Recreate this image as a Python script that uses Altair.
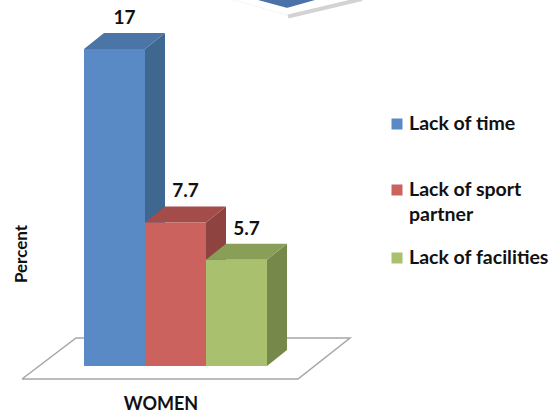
import altair as alt
import pandas as pd

# ---- data -------------------------------------------------------------
categories = ["Lack of time", "Lack of sport partner", "Lack of facilities"]
legend_labels = ["Lack of time", "Lack of sport\npartner", "Lack of facilities"]
values = [17, 7.7, 5.7]
group_label = "WOMEN"
y_title = "Percent"

front_colors = ["#5A8AC6", "#CB625E", "#A9C06E"]
top_colors = ["#4A75A6", "#A34C4A", "#899F57"]
side_colors = ["#3E6890", "#8E4341", "#76884A"]

# ---- layout (pixels) --------------------------------------------------
W, H = 553, 416
LEFT_PX = 84          # left edge of first bar
BAR_PX = 61           # bar width
BASE_PX = 366         # y pixel of value 0
PX_PER_PCT = 18.65    # pixels per percent
DEPTH_X_PX, DEPTH_Y_PX = 20, 16
FONT = "Lato"


def ux(px):
    """pixel column -> bar units"""
    return (px - LEFT_PX) / BAR_PX


def uy(py):
    """pixel row -> percent units"""
    return (BASE_PX - py) / PX_PER_PCT


x_dom = [ux(0), ux(W)]
y_dom = [uy(H), uy(0)]
ddx = DEPTH_X_PX / BAR_PX
ddy = DEPTH_Y_PX / PX_PER_PCT

xs = alt.Scale(domain=x_dom, nice=False, zero=False)
ys = alt.Scale(domain=y_dom, nice=False, zero=False)

front_rows, side_rows, top_rows, label_rows = [], [], [], []
for i, (c, v) in enumerate(zip(categories, values)):
    x0, x1 = float(i), float(i + 1)
    front_rows.append(dict(cat=c, x=x0, x2=x1, y=0.0, y2=v))
    side_rows += [dict(cat=c, x=x1, y=0.0, y2=v),
                  dict(cat=c, x=x1 + ddx, y=ddy, y2=v + ddy)]
    top_rows += [dict(cat=c, y=v, x=x0, x2=x1),
                 dict(cat=c, y=v + ddy, x=x0 + ddx, x2=x1 + ddx)]
    label_rows.append(dict(cat=c, x=x0 + 0.5 + ddx / 2, y=v + ddy, text=f"{v:g}"))

front_df = pd.DataFrame(front_rows)
side_df = pd.DataFrame(side_rows)
top_df = pd.DataFrame(top_rows)
label_df = pd.DataFrame(label_rows)

# floor parallelogram under the bars
floor_df = pd.DataFrame([
    dict(o=0, x=ux(22), y=uy(379)),
    dict(o=1, x=ux(298), y=uy(379)),
    dict(o=2, x=ux(350), y=uy(338)),
    dict(o=3, x=ux(76), y=uy(338)),
    dict(o=4, x=ux(22), y=uy(379)),
])

# edge of the neighbouring figure peeking in at the top
peek_fill_df = pd.DataFrame([
    dict(y=uy(0), x=ux(258), x2=ux(315)),
    dict(y=uy(7.7), x=ux(286.5), x2=ux(287.5)),
])
peek_band_df = pd.DataFrame([
    dict(o=0, x=ux(288), y=uy(16.5)),
    dict(o=1, x=ux(362), y=uy(-1)),
])
peek_dots_df = pd.DataFrame([
    dict(o=0, x=ux(234), y=uy(0)),
    dict(o=1, x=ux(287), y=uy(15)),
])

XQ = dict(scale=xs, axis=None)
YQ = dict(scale=ys, axis=None)

floor = alt.Chart(floor_df).mark_line(color="#A6A6A6", strokeWidth=1.5).encode(
    x=alt.X("x:Q", **XQ), y=alt.Y("y:Q", **YQ), order="o:Q",
)

peek_fill = alt.Chart(peek_fill_df).mark_area(
    orient="horizontal", color="#4A72A8", opacity=1
).encode(y=alt.Y("y:Q", **YQ), x=alt.X("x:Q", stack=None, **XQ), x2="x2:Q")

peek_band = alt.Chart(peek_band_df).mark_line(color="#D3D3D3", strokeWidth=4).encode(
    x=alt.X("x:Q", **XQ), y=alt.Y("y:Q", **YQ), order="o:Q",
)

peek_dots = alt.Chart(peek_dots_df).mark_line(
    color="#E4E4E4", strokeWidth=1, strokeDash=[1, 2]
).encode(x=alt.X("x:Q", **XQ), y=alt.Y("y:Q", **YQ), order="o:Q")

sides = alt.Chart(side_df).transform_calculate(side_cat="datum.cat").mark_area(
    interpolate="linear"
).encode(
    x=alt.X("x:Q", **XQ),
    y=alt.Y("y:Q", stack=None, **YQ),
    y2="y2:Q",
    fill=alt.Fill("side_cat:N", scale=alt.Scale(domain=categories, range=side_colors), legend=None),
    detail="cat:N",
)

tops = alt.Chart(top_df).transform_calculate(top_cat="datum.cat").mark_area(
    orient="horizontal", interpolate="linear"
).encode(
    y=alt.Y("y:Q", **YQ),
    x=alt.X("x:Q", stack=None, **XQ),
    x2="x2:Q",
    fill=alt.Fill("top_cat:N", scale=alt.Scale(domain=categories, range=top_colors), legend=None),
    detail="cat:N",
)

fronts = alt.Chart(front_df).mark_rect().encode(
    x=alt.X("x:Q", **XQ),
    x2="x2:Q",
    y=alt.Y("y:Q", **YQ),
    y2="y2:Q",
    fill=alt.Fill("cat:N", scale=alt.Scale(domain=categories, range=front_colors), legend=None),
)

labels = alt.Chart(label_df).mark_text(
    font=FONT, fontWeight="bold", fontSize=19, baseline="bottom", dy=-5, color="#111111"
).encode(
    x=alt.X("x:Q", **XQ),
    y=alt.Y("y:Q", **YQ),
    text="text:N",
)

x_title = alt.Chart(pd.DataFrame({"t": [group_label]})).mark_text(
    font=FONT, fontWeight="bold", fontSize=18, color="#111111", baseline="middle"
).encode(x=alt.value(161), y=alt.value(405), text="t:N")

y_title_mark = alt.Chart(pd.DataFrame({"t": [y_title]})).mark_text(
    font=FONT, fontWeight="bold", fontSize=17, color="#111111", angle=270, baseline="middle"
).encode(x=alt.value(22), y=alt.value(254), text="t:N")

# legend
legend_layers = []
legend_rows_px = [124, 190, 258]
for lab, c, ypx in zip(legend_labels, front_colors, legend_rows_px):
    d = pd.DataFrame({"t": [lab]})
    legend_layers.append(
        alt.Chart(d).mark_square(size=121, color=c, opacity=1).encode(
            x=alt.value(397), y=alt.value(ypx)
        )
    )
    legend_layers.append(
        alt.Chart(d).mark_text(
            font=FONT, fontWeight="bold", fontSize=19.5, color="#111111",
            align="left", baseline="middle", lineBreak="\n", lineHeight=25,
        ).encode(x=alt.value(409), y=alt.value(ypx), text="t:N")
    )

chart = alt.layer(
    peek_dots, peek_band, peek_fill, floor, sides, tops, fronts, labels,
    x_title, y_title_mark, *legend_layers
).resolve_scale(
    fill="independent"
).properties(
    width=W, height=H, autosize="none", padding=0
).configure_view(stroke=None)

chart.save("out.html", embed_options={"renderer": "svg", "actions": False})
